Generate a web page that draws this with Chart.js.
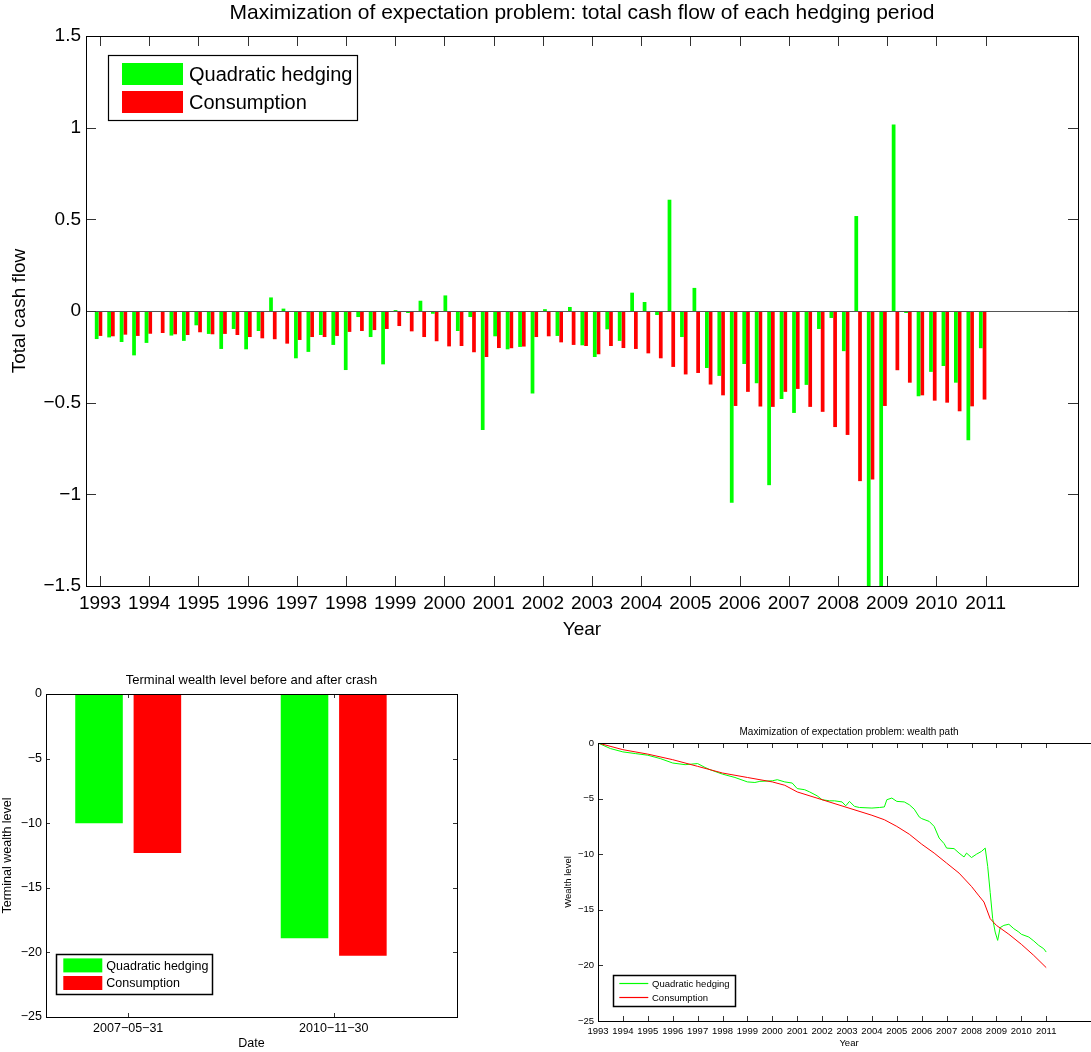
<!DOCTYPE html>
<html>
<head>
<meta charset="utf-8">
<title>Maximization of expectation problem</title>
<script src="https://cdn.jsdelivr.net/npm/chart.js@4.4.0/dist/chart.umd.min.js"></script>
<style>
  html, body { margin: 0; padding: 0; background: #fff; overflow: hidden; }
  body { position: relative; width: 1091px; height: 1052px; }
  canvas { position: absolute; }
  #cashFlow { left: 0; top: 0; }
  #terminal { left: 0; top: 668px; }
  #wealthPath { left: 540px; top: 718px; }
</style>
</head>
<body>
<canvas id="cashFlow" width="1091" height="645"></canvas>
<canvas id="terminal" width="470" height="384"></canvas>
<canvas id="wealthPath" width="562" height="334"></canvas>
<script>
// total cash flow of each hedging period (one pair of bars per period)
var hedgingFlow = [
  -0.153, -0.144, -0.169, -0.242, -0.174, -0.004, -0.134, -0.163, -0.078, -0.125, -0.207, -0.098,
  -0.209, -0.109, 0.074, 0.013, -0.258, -0.223, -0.131, -0.185, -0.322, -0.033, -0.142, -0.291,
  0.005, -0.011, 0.056, -0.015, 0.085, -0.109, -0.033, -0.649, -0.138, -0.209, -0.196, -0.450,
  0.010, -0.136, 0.022, -0.187, -0.251, -0.100, -0.163, 0.100, 0.049, -0.022, 0.607, -0.142,
  0.126, -0.311, -0.354, -1.046, -0.289, -0.394, -0.950, -0.480, -0.556, -0.403, -0.098, -0.038,
  -0.219, 0.518, -1.700, -1.800, 1.017, -0.011, -0.465, -0.332, -0.300, -0.391, -0.705, -0.203
];
var consumptionFlow = [
  -0.136, -0.138, -0.129, -0.136, -0.124, -0.120, -0.127, -0.131, -0.116, -0.127, -0.125, -0.131,
  -0.142, -0.149, -0.154, -0.178, -0.158, -0.142, -0.142, -0.136, -0.114, -0.109, -0.104, -0.098,
  -0.082, -0.111, -0.142, -0.165, -0.193, -0.191, -0.225, -0.251, -0.202, -0.203, -0.194, -0.142,
  -0.138, -0.171, -0.185, -0.191, -0.236, -0.191, -0.202, -0.207, -0.231, -0.258, -0.305, -0.346,
  -0.338, -0.401, -0.460, -0.518, -0.441, -0.521, -0.523, -0.441, -0.425, -0.523, -0.550, -0.633,
  -0.676, -0.928, -0.919, -0.518, -0.323, -0.391, -0.460, -0.489, -0.500, -0.547, -0.520, -0.483
];
var firstPeriod = 1992.97;
var periodLength = 0.2531;
var periodPos = hedgingFlow.map(function(_, i){ return firstPeriod + i * periodLength; });

var yearTicks = [1993, 1994, 1995, 1996, 1997, 1998, 1999, 2000, 2001, 2002,
                 2003, 2004, 2005, 2006, 2007, 2008, 2009, 2010, 2011];
var cashTicks = [-1.5, -1, -0.5, 0, 0.5, 1, 1.5];

// terminal wealth before and after crash
var crashDates = ['2007\u221205\u221231', '2010\u221211\u221230'];
var crashPos = [1, 2];
var terminalHedging = [-10.0, -18.9];
var terminalConsumption = [-12.3, -20.25];
var wealthTicks = [0, -5, -10, -15, -20, -25];

// wealth path
var hedgeYears = [1993, 1993.5, 1994, 1994.5, 1995, 1995.5, 1996, 1996.5, 1996.75, 1997,
  1997.3, 1997.5, 1998, 1998.5, 1999, 1999.3, 1999.5, 2000, 2000.2, 2000.5,
  2000.8, 2001, 2001.3, 2001.5, 2001.8, 2002, 2002.3, 2002.5, 2002.8, 2002.95,
  2003.1, 2003.3, 2003.5, 2004, 2004.3, 2004.5, 2004.6, 2004.8, 2005, 2005.3,
  2005.5, 2005.7, 2005.9, 2006, 2006.3, 2006.5, 2006.7, 2006.9, 2007, 2007.3,
  2007.5, 2007.7, 2007.8, 2008, 2008.2, 2008.4, 2008.55, 2008.65, 2008.75, 2008.85,
  2008.95, 2009.05, 2009.15, 2009.3, 2009.5, 2009.7, 2009.9, 2010, 2010.3, 2010.5,
  2010.7, 2010.9, 2011];
var hedgeWealth = [0, -0.5, -0.8, -0.95, -1.1, -1.4, -1.8, -1.95, -1.9, -1.85,
  -2.2, -2.4, -2.8, -3.1, -3.5, -3.55, -3.45, -3.4, -3.3, -3.5,
  -3.6, -4.1, -4.2, -4.4, -4.75, -5.1, -5.2, -5.2, -5.3, -5.65,
  -5.25, -5.7, -5.8, -5.85, -5.8, -5.75, -5.1, -4.95, -5.25, -5.3,
  -5.55, -5.95, -6.65, -6.8, -7.05, -7.5, -8.55, -9.05, -9.45, -9.5,
  -9.9, -10.25, -9.9, -10.3, -10.0, -9.75, -9.45, -11.1, -13.45, -15.8,
  -17.0, -17.75, -16.6, -16.4, -16.3, -16.7, -17.0, -17.2, -17.45, -17.8,
  -18.2, -18.5, -18.8];
var consYears = [1993, 1994, 1995, 1996, 1997, 1998, 1999, 2000, 2000.5, 2001,
  2002, 2003, 2004, 2004.5, 2005, 2005.5, 2006, 2006.5, 2007, 2007.5,
  2008, 2008.3, 2008.5, 2008.75, 2009, 2009.5, 2010, 2010.5, 2011];
var consWealth = [0, -0.6, -1.0, -1.5, -2.1, -2.7, -3.1, -3.5, -3.8, -4.4,
  -5.1, -5.8, -6.5, -6.9, -7.5, -8.2, -9.1, -9.9, -10.8, -11.7,
  -12.9, -13.75, -14.3, -15.8, -16.4, -17.2, -18.1, -19.1, -20.2];

var GREEN = '#00ff00', RED = '#ff0000';
var FONT = '"Liberation Sans", Arial, Helvetica, sans-serif';
Chart.defaults.font.family = FONT;
Chart.defaults.color = '#000';

function fmtMinus(v){ return v < 0 ? '\u2212' + String(-v) : String(v); }
function fixTicks(list){ return function(s){ s.ticks = list.map(function(v){ return { value: v }; }); }; }
var noGrid = { display: false, drawTicks: false };

// matlab style box: inward ticks on all sides, zero line, legend inside the axes
var matlabAxes = {
  id: 'matlabAxes',
  afterLayout: function(chart){
    var t = chart.titleBlock, a = chart.chartArea;
    if (t) { t.left = a.left; t.right = a.right; }
  },
  afterDatasetsDraw: function(chart, args, opts){
    if (!opts.baseline) return;
    var ctx = chart.ctx, a = chart.chartArea;
    var py = Math.round(chart.scales.y.getPixelForValue(0)) + 0.5;
    ctx.save();
    ctx.strokeStyle = '#555';
    ctx.lineWidth = 1.2;
    ctx.beginPath(); ctx.moveTo(a.left, py); ctx.lineTo(a.right, py); ctx.stroke();
    ctx.restore();
  },
  afterDraw: function(chart, args, opts){
    var ctx = chart.ctx, a = chart.chartArea;
    var xs = chart.scales.x, ys = chart.scales.y, L = opts.tickLen;
    ctx.save();
    ctx.lineWidth = 1;
    ctx.strokeStyle = '#333';
    ctx.beginPath();
    xs.ticks.forEach(function(t){
      var px = Math.round(xs.getPixelForValue(t.value)) + 0.5;
      ctx.moveTo(px, a.bottom); ctx.lineTo(px, a.bottom - L);
      ctx.moveTo(px, a.top); ctx.lineTo(px, a.top + L);
    });
    ys.ticks.forEach(function(t){
      var py = Math.round(ys.getPixelForValue(t.value)) + 0.5;
      ctx.moveTo(a.left, py); ctx.lineTo(a.left + L, py);
      ctx.moveTo(a.right, py); ctx.lineTo(a.right - L, py);
    });
    ctx.stroke();
    ctx.strokeStyle = '#000';
    ctx.strokeRect(Math.round(a.left) + 0.5, Math.round(a.top) + 0.5,
                   Math.round(a.right - a.left), Math.round(a.bottom - a.top));

    var lg = opts.legend;
    if (lg) {
      var bx = Math.round(a.left + lg.x), by = Math.round(a.top + lg.y);
      ctx.fillStyle = '#fff';
      ctx.fillRect(bx, by, lg.w, lg.h);
      ctx.lineWidth = lg.border;
      ctx.strokeStyle = '#000';
      ctx.strokeRect(bx + 0.5, by + 0.5, lg.w, lg.h);
      ctx.font = lg.size + 'px ' + FONT;
      ctx.textBaseline = 'middle';
      ctx.textAlign = 'left';
      chart.data.datasets.forEach(function(ds, i){
        var cy = by + lg.rows[i];
        if (lg.kind === 'line') {
          ctx.strokeStyle = ds.borderColor;
          ctx.lineWidth = 1.2;
          ctx.beginPath();
          ctx.moveTo(bx + lg.swatchX, Math.round(cy) + 0.5);
          ctx.lineTo(bx + lg.swatchX + lg.swatchW, Math.round(cy) + 0.5);
          ctx.stroke();
        } else {
          ctx.fillStyle = ds.backgroundColor;
          ctx.fillRect(bx + lg.swatchX, cy - lg.swatchH / 2, lg.swatchW, lg.swatchH);
        }
        ctx.fillStyle = '#000';
        ctx.fillText(ds.label, bx + lg.textX, cy + 1);
      });
    }
    ctx.restore();
  }
};

// top: cash flow per hedging period
new Chart(document.getElementById('cashFlow'), {
  type: 'bar',
  data: {
    labels: periodPos,
    datasets: [
      { label: 'Quadratic hedging', data: hedgingFlow, backgroundColor: GREEN, borderWidth: 0,
        categoryPercentage: 0.6, barPercentage: 1, clip: 0 },
      { label: 'Consumption', data: consumptionFlow, backgroundColor: RED, borderWidth: 0,
        categoryPercentage: 0.6, barPercentage: 1, clip: 0 }
    ]
  },
  options: {
    responsive: false,
    animation: false,
    layout: { padding: { right: 13 } },
    plugins: {
      legend: { display: false },
      tooltip: { enabled: false },
      title: { display: true, text: 'Maximization of expectation problem: total cash flow of each hedging period',
               font: { size: 21, weight: 'normal' }, color: '#000', padding: { top: 0.9, bottom: 9.9 } },
      matlabAxes: { tickLen: 10, baseline: true,
        legend: { x: 22, y: 19, w: 249, h: 65, border: 1.2, size: 20, kind: 'bar',
                  swatchX: 14, swatchW: 61, swatchH: 22, textX: 81, rows: [19, 47] } }
    },
    scales: {
      x: {
        type: 'linear', min: 1992.715, max: 2012.878, offset: false,
        grid: noGrid, border: { display: false },
        afterBuildTicks: fixTicks(yearTicks),
        afterFit: function(s){ s.height = 59; },
        ticks: { autoSkip: false, maxRotation: 0, minRotation: 0, padding: 6.6, font: { size: 19 },
                 callback: function(v){ return String(v); } },
        title: { display: true, text: 'Year', font: { size: 19 }, padding: { top: 0, bottom: 3.6 } }
      },
      y: {
        min: -1.5, max: 1.5,
        grid: noGrid, border: { display: false },
        afterBuildTicks: fixTicks(cashTicks),
        afterFit: function(s){ s.width = 86; },
        ticks: { padding: 5, font: { size: 19 }, callback: fmtMinus },
        title: { display: true, text: 'Total cash flow', font: { size: 19 }, padding: { top: 8.6, bottom: 0 } }
      }
    }
  },
  plugins: [matlabAxes]
});

// bottom left: terminal wealth
new Chart(document.getElementById('terminal'), {
  type: 'bar',
  data: {
    labels: crashPos,
    datasets: [
      { label: 'Quadratic hedging', data: terminalHedging, backgroundColor: GREEN, borderWidth: 0,
        categoryPercentage: 0.568, barPercentage: 0.815, clip: 0 },
      { label: 'Consumption', data: terminalConsumption, backgroundColor: RED, borderWidth: 0,
        categoryPercentage: 0.568, barPercentage: 0.815, clip: 0 }
    ]
  },
  options: {
    responsive: false,
    animation: false,
    layout: { padding: { right: 13 } },
    plugins: {
      legend: { display: false },
      tooltip: { enabled: false },
      title: { display: true, text: 'Terminal wealth level before and after crash',
               font: { size: 13, weight: 'normal' }, color: '#000', padding: { top: 4.2, bottom: 6.2 } },
      matlabAxes: { tickLen: 4,
        legend: { x: 9.7, y: 260.3, w: 156, h: 40, border: 1.5, size: 12.5, kind: 'bar',
                  swatchX: 7.3, swatchW: 39, swatchH: 14, textX: 50.3, rows: [11.4, 29] } }
    },
    scales: {
      x: {
        type: 'linear', min: 0.6, max: 2.6, offset: false,
        grid: noGrid, border: { display: false },
        afterBuildTicks: fixTicks(crashPos),
        afterFit: function(s){ s.height = 35; },
        ticks: { autoSkip: false, maxRotation: 0, minRotation: 0, padding: 4.5, font: { size: 12.5 },
                 callback: function(v, i){ return crashDates[i]; } },
        title: { display: true, text: 'Date', font: { size: 12.5 }, padding: { top: 0, bottom: 1.2 } }
      },
      y: {
        min: -25, max: 0,
        grid: noGrid, border: { display: false },
        afterBuildTicks: fixTicks(wealthTicks),
        afterFit: function(s){ s.width = 46; },
        ticks: { padding: 4, font: { size: 12.5 }, callback: fmtMinus },
        title: { display: true, text: 'Terminal wealth level', font: { size: 12.5 }, padding: { top: 0.3, bottom: 0 } }
      }
    }
  },
  plugins: [matlabAxes]
});

// bottom right: wealth path
new Chart(document.getElementById('wealthPath'), {
  type: 'line',
  data: {
    datasets: [
      { label: 'Quadratic hedging', order: 1, borderColor: GREEN, borderWidth: 1, pointRadius: 0, tension: 0,
        data: hedgeYears.map(function(x, i){ return { x: x, y: hedgeWealth[i] }; }) },
      { label: 'Consumption', order: 0, borderColor: RED, borderWidth: 1, pointRadius: 0, tension: 0,
        data: consYears.map(function(x, i){ return { x: x, y: consWealth[i] }; }) }
    ]
  },
  options: {
    responsive: false,
    animation: false,
    layout: { padding: { right: 2 } },
    plugins: {
      legend: { display: false },
      tooltip: { enabled: false },
      title: { display: true, text: 'Maximization of expectation problem: wealth path',
               font: { size: 10, weight: 'normal' }, color: '#000', padding: { top: 8, bottom: 5 } },
      matlabAxes: { tickLen: 5,
        legend: { x: 14.7, y: 232, w: 122, h: 31, border: 1.5, size: 9.5, kind: 'line',
                  swatchX: 6.3, swatchW: 29, textX: 39, rows: [8.3, 22.3] } }
    },
    scales: {
      x: {
        type: 'linear', min: 1993, max: 2013.16, offset: false,
        grid: noGrid, border: { display: false },
        afterBuildTicks: fixTicks(yearTicks),
        afterFit: function(s){ s.height = 31; },
        ticks: { autoSkip: false, maxRotation: 0, minRotation: 0, padding: 4.3, font: { size: 9.5 },
                 callback: function(v){ return String(v); } },
        title: { display: true, text: 'Year', font: { size: 9.5 }, padding: { top: 0, bottom: 3.3 } }
      },
      y: {
        min: -25, max: 0,
        grid: noGrid, border: { display: false },
        afterBuildTicks: fixTicks(wealthTicks),
        afterFit: function(s){ s.width = 58; },
        ticks: { padding: 4, font: { size: 9.5 }, callback: fmtMinus },
        title: { display: true, text: 'Wealth level', font: { size: 9.5 }, padding: { top: 22.3, bottom: 0 } }
      }
    }
  },
  plugins: [matlabAxes]
});
</script>
</body>
</html>
